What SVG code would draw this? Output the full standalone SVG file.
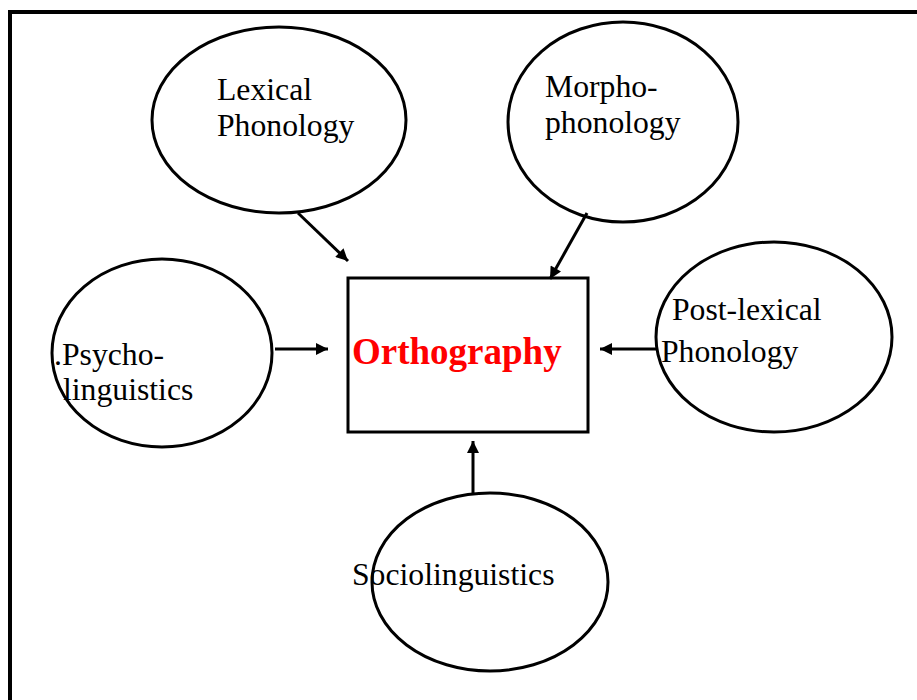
<svg xmlns="http://www.w3.org/2000/svg" width="917" height="700" viewBox="0 0 917 700">
<defs>
<style>
.frame{fill:none;stroke:#000;stroke-width:4}
.node{fill:#fff;stroke:#000;stroke-width:3}
.lbl{font-family:"Liberation Serif","Times New Roman",serif;font-size:31.7px;fill:#000}
.title{font-family:"Liberation Serif","Times New Roman",serif;font-size:37px;font-weight:bold;fill:#ff0000}
.conn line{stroke:#000;stroke-width:3;marker-end:url(#ah)}
</style>
<marker id="ah" viewBox="0 0 10 10" refX="10" refY="5" markerWidth="4.5" markerHeight="4" orient="auto" markerUnits="strokeWidth">
<path d="M0,0 L10,5 L0,10 z" fill="#000"/>
</marker>
</defs>
<rect width="917" height="700" fill="#fff"/>
<rect class="frame" x="10" y="12" width="920" height="700"/>
<g id="lexical">
<ellipse class="node" cx="279" cy="120" rx="127" ry="93"/>
<text class="lbl" x="217" y="100">Lexical</text>
<text class="lbl" x="217" y="136">Phonology</text>
</g>
<g id="morpho">
<ellipse class="node" cx="623" cy="122" rx="115" ry="100"/>
<text class="lbl" x="545" y="97">Morpho-</text>
<text class="lbl" x="545" y="133">phonology</text>
</g>
<g id="psycho">
<ellipse class="node" cx="162" cy="353" rx="110" ry="94"/>
<text class="lbl" x="54" y="365">.Psycho-</text>
<text class="lbl" x="63" y="400">linguistics</text>
</g>
<g id="postlexical">
<ellipse class="node" cx="774" cy="337" rx="118" ry="95"/>
<text class="lbl" x="672" y="320">Post-lexical</text>
<text class="lbl" x="661" y="362">Phonology</text>
</g>
<g id="socio">
<ellipse class="node" cx="490" cy="582" rx="118" ry="89"/>
<text class="lbl" x="352" y="585">Sociolinguistics</text>
</g>
<g id="orthography">
<rect class="node" x="348" y="278" width="240" height="154"/>
<text class="title" x="352" y="364">Orthography</text>
</g>
<g class="conn">
<line x1="298" y1="213" x2="348" y2="261"/>
<line x1="587" y1="213" x2="550" y2="279"/>
<line x1="275" y1="349" x2="328" y2="349"/>
<line x1="658" y1="349" x2="600" y2="349"/>
<line x1="473" y1="495" x2="473" y2="441"/>
</g>
</svg>
